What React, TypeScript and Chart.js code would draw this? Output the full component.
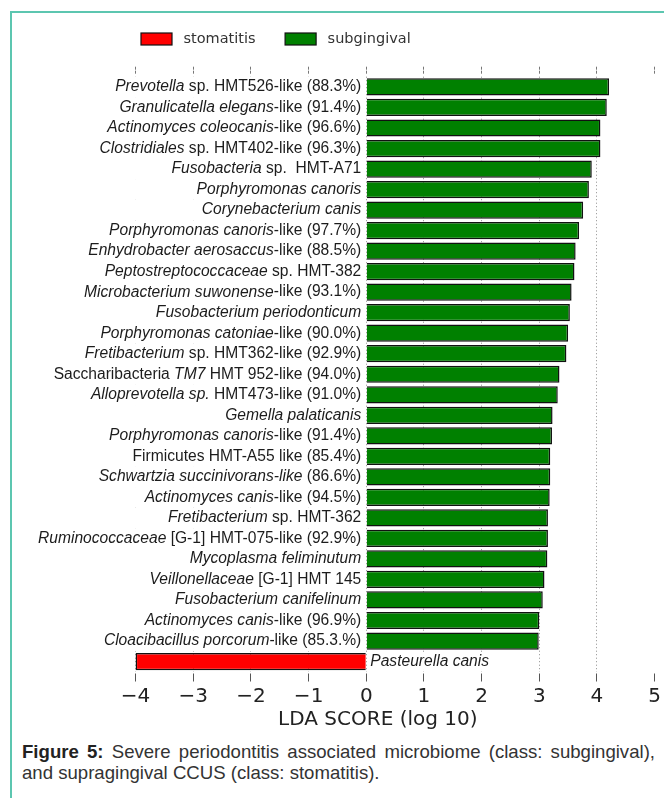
import React, { useEffect, useRef } from "react";
import { Chart, registerables } from "chart.js";

Chart.register(...registerables);

// ---------- data ----------
const taxa: string[] = [
  "*Prevotella* sp. HMT526-like (88.3%)",
  "*Granulicatella elegans*-like (91.4%)",
  "*Actinomyces coleocanis*-like (96.6%)",
  "*Clostridiales* sp. HMT402-like (96.3%)",
  "*Fusobacteria* sp.  HMT-A71",
  "*Porphyromonas canoris*",
  "*Corynebacterium canis*",
  "*Porphyromonas canoris*-like (97.7%)",
  "*Enhydrobacter aerosaccus*-like (88.5%)",
  "*Peptostreptococcaceae* sp. HMT-382",
  "*Microbacterium suwonense*-like (93.1%)",
  "*Fusobacterium periodonticum*",
  "*Porphyromonas catoniae*-like (90.0%)",
  "*Fretibacterium* sp. HMT362-like (92.9%)",
  "Saccharibacteria *TM7* HMT 952-like (94.0%)",
  "*Alloprevotella sp.* HMT473-like (91.0%)",
  "*Gemella palaticanis*",
  "*Porphyromonas canoris*-like (91.4%)",
  "Firmicutes HMT-A55 like (85.4%)",
  "*Schwartzia succinivorans-like* (86.6%)",
  "*Actinomyces canis*-like (94.5%)",
  "*Fretibacterium* sp. HMT-362",
  "*Ruminococcaceae* [G-1] HMT-075-like (92.9%)",
  "*Mycoplasma feliminutum*",
  "*Veillonellaceae* [G-1] HMT 145",
  "*Fusobacterium canifelinum*",
  "*Actinomyces canis*-like (96.9%)",
  "*Cloacibacillus porcorum*-like (85.3.%)",
  "*Pasteurella canis*",
];

const subgingivalScores: (number | null)[] = [
  4.21, 4.17, 4.06, 4.06, 3.91, 3.86, 3.76, 3.69, 3.63, 3.61,
  3.56, 3.53, 3.5, 3.47, 3.35, 3.32, 3.23, 3.22, 3.19, 3.19,
  3.18, 3.15, 3.15, 3.14, 3.09, 3.06, 3.0, 2.99, null,
];

const stomatitisScores: (number | null)[] = [
  null, null, null, null, null, null, null, null, null, null,
  null, null, null, null, null, null, null, null, null, null,
  null, null, null, null, null, null, null, null, -4.0,
];

const classNames = ["stomatitis", "subgingival"];
const classColors = ["#ff0000", "#008000"];
const xTickValues = [-4, -3, -2, -1, 0, 1, 2, 3, 4, 5];
const xRange = [-4.6, 5];
const xTitle = "LDA SCORE (log 10)";
const captionLead = "Figure 5:";
const captionLine1 = " Severe periodontitis associated microbiome (class: subgingival),";
const captionLine2 = "and supragingival CCUS (class: stomatitis).";

// ---------- helpers ----------
const LABEL_FONT = '"Liberation Sans", Arial, sans-serif';
const LABEL_SIZE = 15.6;
const parseRich = (s: string) =>
  s
    .split("*")
    .map((t, i) => ({ text: t, italic: i % 2 === 1 }))
    .filter((p) => p.text.length > 0);

const fmtTick = (v: number) => (v < 0 ? "\u2212" + Math.abs(v) : String(v));

const rowLabelPlugin = {
  id: "rowLabels",
  afterDraw(chart: any) {
    const { ctx, chartArea } = chart;
    const xs = chart.scales.x;
    const ys = chart.scales.y;
    const zero = xs.getPixelForValue(0);
    const step = Math.abs(ys.getPixelForValue(1) - ys.getPixelForValue(0));
    ctx.save();
    const fontFor = (it: boolean) => `${it ? "italic " : ""}${LABEL_SIZE}px ${LABEL_FONT}`;
    taxa.forEach((lab, i) => {
      const yc = ys.getPixelForValue(i);
      const neg = (stomatitisScores[i] ?? 0) < 0;
      const parts = parseRich(lab);
      let w = 0;
      parts.forEach((p) => {
        ctx.font = fontFor(p.italic);
        w += ctx.measureText(p.text).width;
      });
      let x: number;
      ctx.fillStyle = "#ffffff";
      if (!neg) {
        ctx.fillRect(chartArea.left, yc - step / 2, zero - 1 - chartArea.left, step);
        x = zero - 5 - w;
      } else {
        x = zero + 4;
        ctx.fillRect(x - 1, yc - step / 2 + 2, w + 2, step - 4);
      }
      ctx.fillStyle = "#1c1c1c";
      ctx.textBaseline = "middle";
      ctx.textAlign = "left";
      parts.forEach((p) => {
        ctx.font = fontFor(p.italic);
        ctx.fillText(p.text, x, yc);
        x += ctx.measureText(p.text).width;
      });
    });
    ctx.restore();
  },
};

const legendPlugin = {
  id: "topLegend",
  afterDraw(chart: any) {
    const { ctx } = chart;
    ctx.save();
    ctx.font = '14.5px "DejaVu Sans", sans-serif';
    ctx.textBaseline = "middle";
    ctx.textAlign = "left";
    let x = 141;
    const yc = 39;
    chart.data.datasets.forEach((ds: any) => {
      ctx.fillStyle = ds.backgroundColor;
      ctx.fillRect(x, yc - 6, 31, 12);
      ctx.strokeStyle = "#111";
      ctx.lineWidth = 1.2;
      ctx.strokeRect(x, yc - 6, 31, 12);
      x += 31 + 11.5;
      ctx.fillStyle = "#333";
      ctx.fillText(ds.label, x, yc);
      x += ctx.measureText(ds.label).width + 29.5;
    });
    ctx.restore();
  },
};

function LefseChart() {
  const ref = useRef<HTMLCanvasElement | null>(null);
  useEffect(() => {
    if (!ref.current) return;
    const setTicks = (s: any) => {
      s.ticks = xTickValues.map((v) => ({ value: v }));
    };
    const chart = new Chart(ref.current, {
      type: "bar",
      data: {
        labels: taxa,
        datasets: [
          {
            label: classNames[0],
            data: stomatitisScores,
            backgroundColor: classColors[0],
            borderColor: "#111",
            borderWidth: 1.5,
            grouped: false,
            barPercentage: 0.84,
            categoryPercentage: 1,
          } as any,
          {
            label: classNames[1],
            data: subgingivalScores,
            backgroundColor: classColors[1],
            borderColor: "#111",
            borderWidth: 1.5,
            grouped: false,
            barPercentage: 0.84,
            categoryPercentage: 1,
          } as any,
        ],
      },
      options: {
        indexAxis: "y",
        responsive: false,
        animation: false,
        layout: { padding: { top: 0, left: 101, right: 9, bottom: 8 } },
        plugins: { legend: { display: false }, tooltip: { enabled: false } },
        scales: {
          y: { type: "category", display: false, offset: true },
          x: {
            type: "linear",
            position: "bottom",
            min: xRange[0],
            max: xRange[1],
            z: 1,
            afterBuildTicks: setTicks,
            afterFit: (s: any) => {
              s.height = 60.2;
            },
            border: { display: false, dash: [1, 2.5] },
            grid: {
              color: (c: any) =>
                c.tick && c.tick.value === 5 ? "rgba(0,0,0,0)" : "rgba(0,0,0,0.45)",
              lineWidth: 1,
              tickLength: 10,
              tickColor: "#555",
              tickWidth: 1,
              tickBorderDash: [0, 1.5, 8, 100],
            },
            ticks: {
              padding: 3,
              color: "#222",
              font: { family: '"DejaVu Sans", sans-serif', size: 20 },
              callback: (v: any) => fmtTick(Number(v)),
              maxRotation: 0,
              autoSkip: false,
            },
            title: {
              display: true,
              text: xTitle,
              color: "#222",
              padding: 0,
              font: { family: '"DejaVu Sans", sans-serif', size: 20 },
            },
          },
          xTop: {
            type: "linear",
            axis: "x",
            position: "top",
            min: xRange[0],
            max: xRange[1],
            afterBuildTicks: setTicks,
            afterFit: (s: any) => {
              s.height = 76.7;
            },
            border: { display: false },
            grid: {
              drawOnChartArea: false,
              tickLength: 10,
              tickColor: "#777",
              tickWidth: 1,
              tickBorderDash: [3, 1, 3, 100],
            },
            ticks: { display: false },
          },
        } as any,
      },
      plugins: [rowLabelPlugin, legendPlugin],
    });
    return () => chart.destroy();
  }, []);
  return (
    <canvas
      ref={ref}
      width={664}
      height={740}
      style={{ position: "absolute", left: 0, top: 0, width: 664, height: 740, display: "block" }}
    />
  );
}

export default function App() {
  const captionStyle: React.CSSProperties = {
    position: "absolute",
    left: 22,
    width: 633,
    fontFamily: '"Liberation Sans", Arial, sans-serif',
    fontSize: 18.6,
    lineHeight: "21px",
    color: "#333",
    whiteSpace: "nowrap",
  };
  return (
    <div
      style={{
        position: "absolute",
        left: 0,
        top: 0,
        width: 664,
        height: 798,
        overflow: "hidden",
        background: "#fff",
      }}
    >
      <div
        style={{
          position: "absolute",
          left: 10,
          top: 11,
          width: 654,
          height: 787,
          borderTop: "2px solid #5cc6b0",
          borderLeft: "2px solid #5cc6b0",
          boxSizing: "border-box",
        }}
      />
      <LefseChart />
      <div style={{ ...captionStyle, top: 741, textAlign: "justify", textAlignLast: "justify", whiteSpace: "normal" }}>
        <b style={{ color: "#222" }}>{captionLead}</b>
        {captionLine1}
      </div>
      <div style={{ ...captionStyle, top: 762 }}>{captionLine2}</div>
    </div>
  );
}
